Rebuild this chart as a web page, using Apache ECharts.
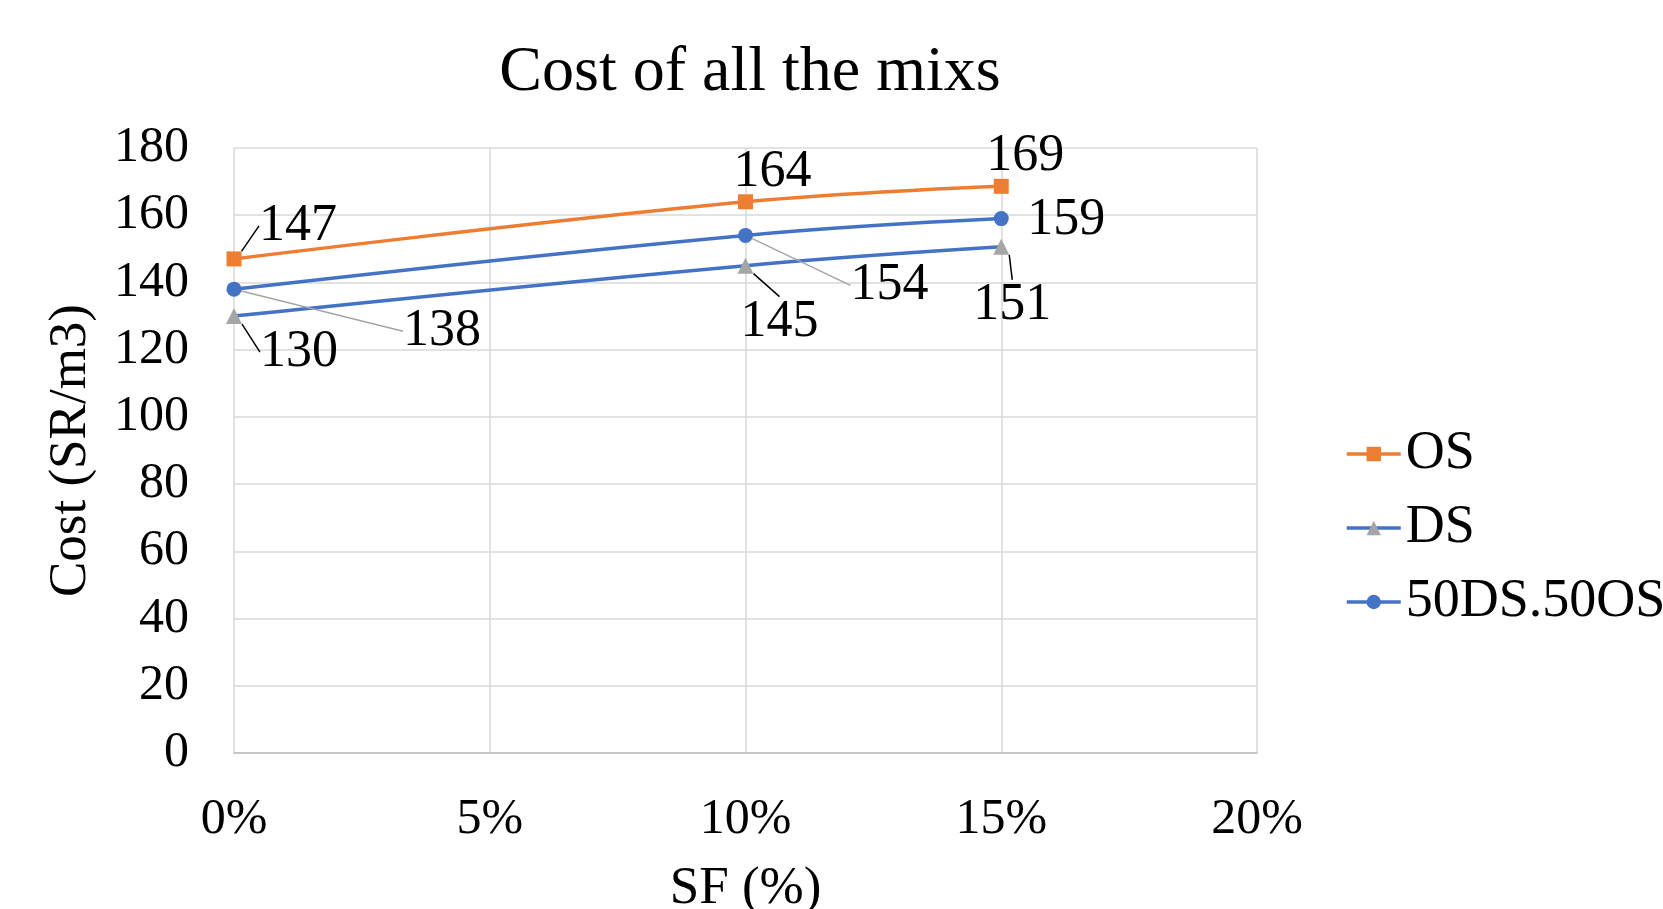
<!DOCTYPE html>
<html>
<head>
<meta charset="utf-8">
<script src="https://cdn.jsdelivr.net/npm/echarts@6/dist/echarts.min.js"></script>
<style>html,body{margin:0;padding:0;background:#fff}#c{width:1663px;height:909px}</style>
</head>
<body>
<div id="c"></div>
<script>
const sfPercent = [0, 10, 15];
const osCost = [147, 164, 168.6];
const dsCost = [130, 145, 150.6];
const mixCost = [138, 154, 159];
const xTicks = [0, 5, 10, 15, 20];
const seriesNames = ['OS', 'DS', '50DS.50OS'];

const FONT = "'Liberation Serif', 'Times New Roman', serif";
// label offsets (style only)
const osLayout = [[64, -33], [27, -29], [24, -30]];
const dsLayout = [[65, 36], [34, 57], [11, 59]];
const mixLayout = [[208, 42], [144, 50], [65, 2]];
const osLine = [true, false, false];
const dsLine = [true, true, true];
const mixLine = [true, true, false];
const BLACK = '#000', GRAY = '#A5A5A5';

function mkData(vals, lines, lineColor) {
  return vals.map((v, i) => ({
    value: [sfPercent[i], v],
    labelLine: { show: lines[i], lineStyle: { color: lineColor, width: 1.5 } }
  }));
}
function mkLayout(off) {
  return p => ({ dx: off[p.dataIndex][0], dy: off[p.dataIndex][1] });
}
const labelCommon = {
  show: true, position: 'inside', color: '#000', fontFamily: FONT, fontSize: 52,
  formatter: p => Math.round(p.value[1])
};

const chart = echarts.init(document.getElementById('c'), null, { renderer: 'canvas' });
chart.setOption({
  animation: false,
  backgroundColor: '#fff',
  title: {
    text: 'Cost of all the mixs', left: 745, textAlign: 'center', top: 36,
    textStyle: { fontFamily: FONT, fontSize: 64, fontWeight: 'normal', color: '#000' }
  },
  legend: {
    orient: 'vertical', left: 1340, top: 422, itemWidth: 54, itemHeight: 18, itemGap: 20,
    data: seriesNames,
    lineStyle: { width: 3.5 },
    textStyle: { fontFamily: FONT, fontSize: 54, color: '#000' }
  },
  grid: { left: 234, right: 406, top: 148, bottom: 156, outerBoundsMode: 'none', containLabel: false },
  xAxis: {
    type: 'value', min: 0, max: 20, interval: 5,
    name: 'SF (%)', nameLocation: 'middle', nameGap: 110,
    nameTextStyle: { fontFamily: FONT, fontSize: 53, color: '#000' },
    axisLabel: { formatter: '{value}%', fontFamily: FONT, fontSize: 50, color: '#000', margin: 42 },
    axisLine: { lineStyle: { color: '#BFBFBF', width: 1.5 } },
    axisTick: { show: false },
    splitLine: { show: true, lineStyle: { color: '#D9D9D9', width: 1.5 } }
  },
  yAxis: {
    type: 'value', min: 0, max: 180, interval: 20,
    name: 'Cost (SR/m3)', nameLocation: 'middle', nameGap: 136,
    nameTextStyle: { fontFamily: FONT, fontSize: 53, color: '#000' },
    axisLabel: { fontFamily: FONT, fontSize: 50, color: '#000', margin: 45 },
    axisLine: { show: false },
    axisTick: { show: false },
    splitLine: { show: true, lineStyle: { color: '#D9D9D9', width: 1.5 } }
  },
  series: [
    {
      name: seriesNames[0], type: 'line', smooth: 0.4,
      data: mkData(osCost, osLine, BLACK),
      symbol: 'rect', symbolSize: 15,
      itemStyle: { color: '#ED7D31' },
      lineStyle: { color: '#ED7D31', width: 3.5 },
      label: labelCommon, labelLayout: mkLayout(osLayout), z: 3
    },
    {
      name: seriesNames[1], type: 'line', smooth: 0.4,
      data: mkData(dsCost, dsLine, BLACK),
      symbol: 'triangle', symbolSize: 16,
      itemStyle: { color: '#A5A5A5' },
      lineStyle: { color: '#4472C4', width: 3.5 },
      label: labelCommon, labelLayout: mkLayout(dsLayout), z: 2
    },
    {
      name: seriesNames[2], type: 'line', smooth: 0.4,
      data: mkData(mixCost, mixLine, GRAY),
      symbol: 'circle', symbolSize: 15,
      itemStyle: { color: '#4472C4' },
      lineStyle: { color: '#4472C4', width: 3.5 },
      label: labelCommon, labelLayout: mkLayout(mixLayout), z: 2
    }
  ]
});
</script>
</body>
</html>
